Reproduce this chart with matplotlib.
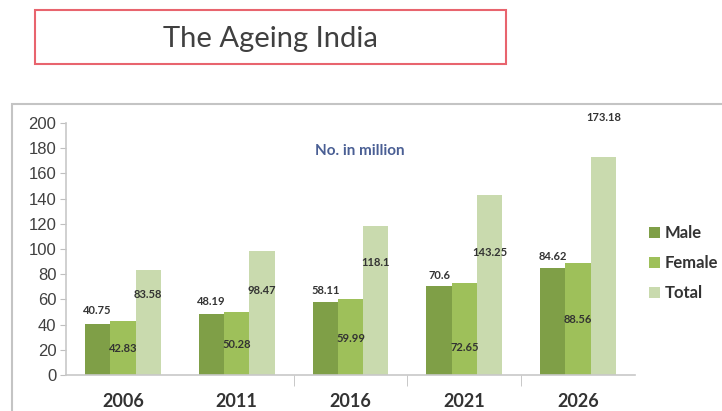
import numpy as np
import matplotlib.pyplot as plt
from matplotlib.patches import Rectangle

years = ['2006', '2011', '2016', '2021', '2026']
male = [40.75, 48.19, 58.11, 70.6, 84.62]
female = [42.83, 50.28, 59.99, 72.65, 88.56]
total = [83.58, 98.47, 118.1, 143.25, 173.18]

series = ['Male', 'Female', 'Total']
colors = ['#7f9f47', '#9ec05a', '#c9daae']

# where excel dropped the data labels (in data units)
label_y = {
    'Male': [51, 58, 67, 79, 94],
    'Female': [21, 24, 29, 22, 44],
    'Total': [64, 67, 89, 97, 204],
}

plt.rcParams['font.family'] = ['Lato', 'DejaVu Sans']

fig = plt.figure(figsize=(7.22, 4.11), dpi=100)
ax = fig.add_axes([66/722, 1-375/411, (635-66)/722, (375-123)/411])

x = np.arange(len(years))
w = 0.222
for i, (name, vals) in enumerate(zip(series, [male, female, total])):
    pos = x + (i - 1) * w
    ax.bar(pos, vals, w, color=colors[i], label=name, zorder=2)
    for px, v, ly in zip(pos, vals, label_y[name]):
        ax.text(px, ly, f'{v:g}', ha='center', va='center', fontsize=8,
                fontweight='bold', color='#333333', zorder=3)

ax.set_xlim(-0.5, 4.5)
ax.set_ylim(0, 200)
ax.set_yticks(range(0, 201, 20))
ax.set_yticklabels([str(t) for t in range(0, 201, 20)],
                   family='Liberation Sans', fontsize=12, color='#404040')
ax.tick_params(axis='y', length=4, color='#bfbfbf', pad=3)
ax.set_xticks(x)
ax.set_xticklabels(years, fontsize=13, fontweight='bold', color='#333333')
ax.tick_params(axis='x', length=0, pad=13)
ax.set_xticks([1.5, 2.5, 3.5], minor=True)
ax.tick_params(axis='x', which='minor', length=8, color='#bfbfbf', direction='out')
for s in ['top', 'right']:
    ax.spines[s].set_visible(False)
for s in ['left', 'bottom']:
    ax.spines[s].set_color('#c8c8c8')
    ax.spines[s].set_linewidth(1.2)

ax.text(2.08, 178, 'No. in million', ha='center', va='center', fontsize=11,
        fontweight='bold', color='#4a5f94')

fig.legend(loc='upper left', bbox_to_anchor=(634/722, 1-210/411), frameon=False,
           handlelength=0.65, handleheight=0.65, handletextpad=0.3,
           labelspacing=0.85, prop={'size': 12, 'weight': 'bold'},
           labelcolor='#333333')

# outer chart border, runs off the right and bottom edge
fig.patches.append(Rectangle((12/722, -0.2), 1.5, 0.2 + 1-104/411, fill=False,
                             edgecolor='#c4c4c4', linewidth=1.5,
                             transform=fig.transFigure, figure=fig))

# title box
fig.patches.append(Rectangle((35/722, 1-64/411), (506-35)/722, 54/411, fill=False,
                             edgecolor='#e8646e', linewidth=1.5,
                             transform=fig.transFigure, figure=fig))
fig.text(270/722, 1-39/411, 'The Ageing India', ha='center', va='center',
         fontsize=21, color='#404040')

fig.savefig('out.png', dpi=100)
